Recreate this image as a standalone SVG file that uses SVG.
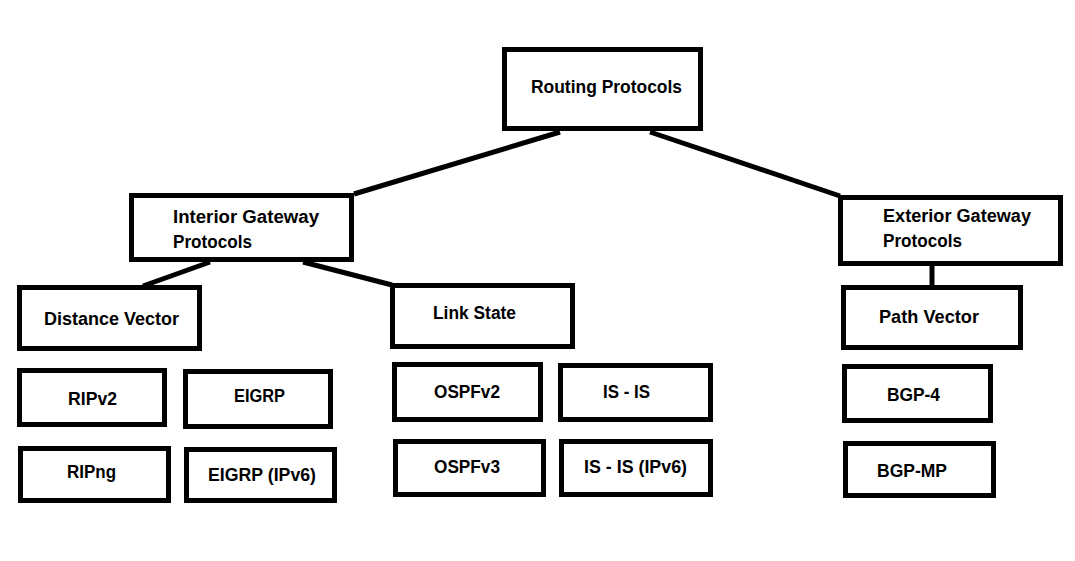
<svg xmlns="http://www.w3.org/2000/svg" width="1075" height="561" viewBox="0 0 1075 561">
<style>
.box{fill:#fff;stroke:#000;stroke-width:5}
.ln{stroke:#000;stroke-width:5;fill:none}
text{font-family:"Liberation Sans",Arial,sans-serif;font-weight:bold;font-size:18px;fill:#000}
</style>
<rect width="1075" height="561" fill="#fff"/>
<g id="connectors">
<line class="ln" x1="560" y1="132" x2="354" y2="194"/>
<line class="ln" x1="650" y1="132" x2="840" y2="196"/>
<line class="ln" x1="210" y1="262" x2="143" y2="286"/>
<line class="ln" x1="303" y1="262" x2="392" y2="285"/>
<line class="ln" x1="932" y1="266" x2="932" y2="286"/>
</g>
<g id="routing"><rect class="box" x="504.5" y="49.5" width="196" height="79"/><text x="531" y="93" textLength="151" lengthAdjust="spacingAndGlyphs">Routing Protocols</text></g>
<g id="interior"><rect class="box" x="131.5" y="195.5" width="220" height="64"/><text x="173" y="223" textLength="146" lengthAdjust="spacingAndGlyphs">Interior Gateway</text><text x="173" y="248" textLength="79" lengthAdjust="spacingAndGlyphs">Protocols</text></g>
<g id="exterior"><rect class="box" x="840.5" y="197.5" width="220" height="66"/><text x="883" y="222" textLength="148" lengthAdjust="spacingAndGlyphs">Exterior Gateway</text><text x="883" y="247" textLength="79" lengthAdjust="spacingAndGlyphs">Protocols</text></g>
<g id="distance-vector"><rect class="box" x="19.5" y="287.5" width="180" height="61"/><text x="44" y="325" textLength="135" lengthAdjust="spacingAndGlyphs">Distance Vector</text></g>
<g id="link-state"><rect class="box" x="392.5" y="285.5" width="180" height="61"/><text x="433" y="319" textLength="83" lengthAdjust="spacingAndGlyphs">Link State</text></g>
<g id="path-vector"><rect class="box" x="843.5" y="287.5" width="177" height="60"/><text x="879" y="323" textLength="100" lengthAdjust="spacingAndGlyphs">Path Vector</text></g>
<g id="ripv2"><rect class="box" x="19.5" y="370.5" width="145" height="54"/><text x="68" y="405" textLength="49" lengthAdjust="spacingAndGlyphs">RIPv2</text></g>
<g id="eigrp"><rect class="box" x="185.5" y="371.5" width="145" height="55"/><text x="234" y="402" textLength="51" lengthAdjust="spacingAndGlyphs">EIGRP</text></g>
<g id="ripng"><rect class="box" x="20.5" y="448.5" width="148" height="52"/><text x="67" y="478" textLength="49" lengthAdjust="spacingAndGlyphs">RIPng</text></g>
<g id="eigrp-ipv6"><rect class="box" x="186.5" y="449.5" width="148" height="51"/><text x="208" y="481" textLength="108" lengthAdjust="spacingAndGlyphs">EIGRP (IPv6)</text></g>
<g id="ospfv2"><rect class="box" x="394.5" y="364.5" width="146" height="55"/><text x="434" y="398" textLength="66" lengthAdjust="spacingAndGlyphs">OSPFv2</text></g>
<g id="isis"><rect class="box" x="560.5" y="365.5" width="150" height="54"/><text x="603" y="398" textLength="47" lengthAdjust="spacingAndGlyphs">IS - IS</text></g>
<g id="ospfv3"><rect class="box" x="395.5" y="441.5" width="148" height="53"/><text x="434" y="473" textLength="66" lengthAdjust="spacingAndGlyphs">OSPFv3</text></g>
<g id="isis-ipv6"><rect class="box" x="561.5" y="441.5" width="149" height="53"/><text x="584" y="473" textLength="103" lengthAdjust="spacingAndGlyphs">IS - IS (IPv6)</text></g>
<g id="bgp4"><rect class="box" x="844.5" y="366.5" width="146" height="54"/><text x="887" y="401" textLength="53" lengthAdjust="spacingAndGlyphs">BGP-4</text></g>
<g id="bgpmp"><rect class="box" x="845.5" y="443.5" width="148" height="52"/><text x="877" y="477" textLength="70" lengthAdjust="spacingAndGlyphs">BGP-MP</text></g>
</svg>
